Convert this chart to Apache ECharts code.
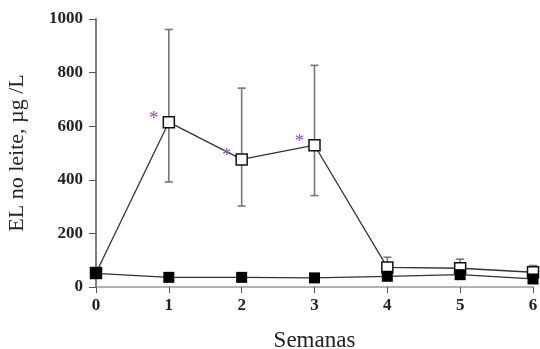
<!DOCTYPE html>
<html><head><meta charset="utf-8">
<script src="https://cdn.jsdelivr.net/npm/echarts@6/dist/echarts.min.js"></script>
<style>html,body{margin:0;padding:0;background:#fff}#c{width:540px;height:349px}</style>
</head><body><div id="c"></div>
<script>
const weeks = [0, 1, 2, 3, 4, 5, 6];
const openMean = [52, 615, 476, 529, 73, 70, 55];
const openUpper = [null, 961, 742, 827, 111, 104, 80];
const openLower = [null, 392, 302, 341, 73, 70, 55];
const filledMean = [51, 36, 36, 34, 40, 46, 30];
const starWeeks = [1, 2, 3];
const yTicks = [0, 200, 400, 600, 800, 1000];

const font = '"Liberation Serif", "DejaVu Serif", serif';
const chart = echarts.init(document.getElementById('c'));

const errData = weeks.map((w, i) => [w, openLower[i], openUpper[i]]).filter(d => d[2] !== null);

chart.setOption({
  animation: false,
  grid: { left: 96, right: 7, top: 19, bottom: 62, containLabel: false, outerBoundsMode: 'none' },
  xAxis: {
    type: 'value', min: 0, max: 6, interval: 1,
    name: 'Semanas', nameLocation: 'middle', nameGap: 42,
    nameTextStyle: { fontFamily: font, fontSize: 23, color: '#222' },
    axisLine: { show: true, onZero: false, lineStyle: { color: '#999', width: 1.5 } },
    axisTick: { show: true, length: 6, lineStyle: { color: '#555' } },
    axisLabel: { fontFamily: font, fontSize: 17, color: '#222', margin: 10, fontWeight: 'bold' },
    splitLine: { show: false }
  },
  yAxis: {
    type: 'value', min: 0, max: 1000, interval: 200,
    name: 'EL no leite, µg /L', nameLocation: 'middle', nameGap: 68, nameRotate: 90,
    nameTextStyle: { fontFamily: font, fontSize: 22, color: '#222' },
    axisLine: { show: true, lineStyle: { color: '#555', width: 1.5 } },
    axisTick: { show: true, length: 7, lineStyle: { color: '#555' } },
    axisLabel: { fontFamily: font, fontSize: 17, color: '#222', margin: 13, fontWeight: 'bold',
      formatter: v => yTicks.includes(v) ? String(v) : '' },
    splitLine: { show: false }
  },
  series: [
    {
      type: 'custom', z: 1,
      data: errData,
      renderItem: (params, api) => {
        const x = api.value(0);
        const lo = api.coord([x, api.value(1)]);
        const hi = api.coord([x, api.value(2)]);
        const cap = 4;
        const st = { stroke: '#777', lineWidth: 1.6 };
        return { type: 'group', children: [
          { type: 'line', shape: { x1: hi[0], y1: hi[1], x2: lo[0], y2: lo[1] }, style: st },
          { type: 'line', shape: { x1: hi[0]-cap, y1: hi[1], x2: hi[0]+cap, y2: hi[1] }, style: st },
          { type: 'line', shape: { x1: lo[0]-cap, y1: lo[1], x2: lo[0]+cap, y2: lo[1] }, style: st }
        ]};
      }
    },
    {
      type: 'line', z: 3,
      data: weeks.map((w, i) => [w, openMean[i]]),
      symbol: 'rect', symbolSize: 11,
      lineStyle: { color: '#333', width: 1.3 },
      itemStyle: { color: '#fff', borderColor: '#111', borderWidth: 1.5 },
      label: {
        show: true, position: 'left', distance: 4, offset: [0, -3],
        fontFamily: font, fontSize: 19, color: '#8a4cc0',
        formatter: p => starWeeks.includes(p.value[0]) ? '*' : ''
      }
    },
    {
      type: 'line', z: 4,
      data: weeks.map((w, i) => [w, filledMean[i]]),
      symbol: 'rect', symbolSize: 11,
      lineStyle: { color: '#333', width: 1.3 },
      itemStyle: { color: '#000', borderColor: '#000', borderWidth: 0 }
    }
  ]
});
</script></body></html>
